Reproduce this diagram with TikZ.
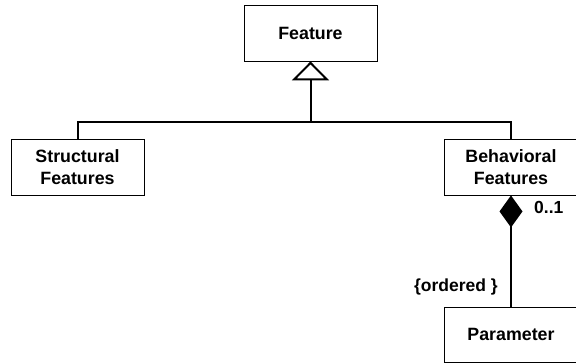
\documentclass[tikz,border=0pt]{standalone}
\usepackage{fontspec}
\setmainfont{Liberation Sans}
\usetikzlibrary{arrows.meta}
\begin{document}
\begin{tikzpicture}[x=1pt,y=1pt,
  umlbox/.style={draw, line width=0.9pt, minimum height=56pt, minimum width=133pt,
    align=center, inner sep=0pt, font=\fontsize{17.8}{21.5}\selectfont\bfseries},
  conn/.style={line width=2pt},
  lbl/.style={font=\fontsize{17.5}{21}\selectfont\bfseries, inner sep=0pt}]
\useasboundingbox (0,0) rectangle (576,-363);
\node[umlbox] (feature) at (310.5,-33) {Feature};
\node[umlbox] (structural) at (77.5,-167) {Structural\\Features};
\node[umlbox] (behavioral) at (511,-167) {Behavioral\\Features};
\node[umlbox, minimum height=55pt] (parameter) at (511,-334.5) {Parameter};
\coordinate (hub) at (310.5,-122);
\draw[conn] (structural.north) |- (hub) -| (behavioral.north);
\draw[conn, -{Triangle[open, width=37pt, length=19pt, line width=2pt]}] (hub) -- (feature.south);
\draw[conn, {Diamond[width=23pt, length=32pt]}-] (behavioral.south) -- (parameter.north);
\node[lbl, anchor=west] (mult) at (534,-207) {0..1};
\node[lbl, anchor=east] (ord) at (498,-287) {\{ordered \}};
\end{tikzpicture}
\end{document}
